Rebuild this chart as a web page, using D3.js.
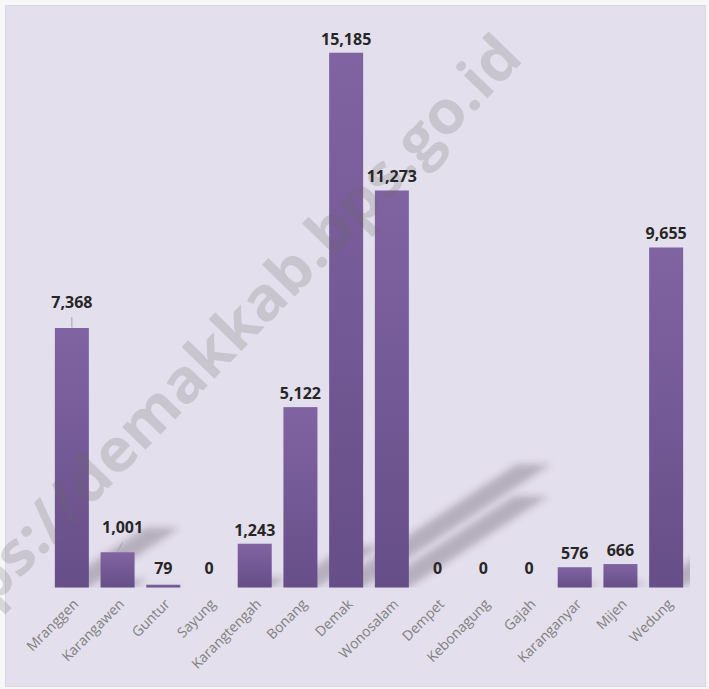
<!DOCTYPE html>
<html>
<head>
<meta charset="utf-8">
<script src="https://cdn.jsdelivr.net/npm/d3@7"></script>
<style>
  html, body { margin: 0; padding: 0; background: #f7f6f9; }
  svg { display: block; }
</style>
</head>
<body>
<div class="chart-area"></div>
<script>
// Kecamatan (districts) and values
const categories = ["Mranggen", "Karangawen", "Guntur", "Sayung", "Karangtengah", "Bonang", "Demak",
    "Wonosalam", "Dempet", "Kebonagung", "Gajah", "Karanganyar", "Mijen", "Wedung"];
const values = [7368, 1001, 79, 0, 1243, 5122, 15185, 11273, 0, 0, 0, 576, 666, 9655];
const yMax = 16000;
const watermarkText = "https://demakkab.bps.go.id";

// labels that were dragged off their bar (with a leader line)
const labelNudge = { Mranggen: { dx: 0, dy: -12 }, Karangawen: { dx: 5, dy: -11 } };

const W = 709, H = 689;
const plot = { left: 49, right: 689, top: 24, bottom: 587.5 };

const svg = d3.select(".chart-area")
    .append("svg")
    .attr("width", W)
    .attr("height", H);

const defs = svg.append("defs");

const grad = defs.append("linearGradient")
    .attr("id", "barGrad")
    .attr("x1", 0).attr("y1", 0).attr("x2", 0).attr("y2", 1);
grad.append("stop").attr("offset", "0%").attr("stop-color", "#8064a2");
grad.append("stop").attr("offset", "100%").attr("stop-color", "#664e88");

defs.append("filter")
    .attr("id", "blur")
    .attr("x", "-50%").attr("y", "-50%").attr("width", "200%").attr("height", "200%")
    .append("feGaussianBlur").attr("stdDeviation", 3.5);

defs.append("clipPath").attr("id", "plotClip")
    .append("rect")
    .attr("x", plot.left).attr("y", plot.top)
    .attr("width", plot.right - plot.left + 1)
    .attr("height", plot.bottom - plot.top);

// chart panel
svg.append("rect")
    .attr("x", 5.5).attr("y", 5.5)
    .attr("width", 700).attr("height", 681)
    .attr("fill", "#e4dfec")
    .attr("stroke", "#d9d9d9")
    .attr("stroke-width", 1);

const x = d3.scaleBand()
    .domain(categories)
    .range([plot.left, plot.right])
    .paddingInner(0.256)
    .paddingOuter(0.128);

const y = d3.scaleLinear()
    .domain([0, yMax])
    .range([plot.bottom, plot.top]);

const data = categories.map((c, i) => ({ name: c, value: values[i] }));

// perspective shadows cast up and to the right
const shadowK = 0.35, shadowS = 0.23;
svg.append("g")
    .attr("clip-path", "url(#plotClip)")
    .append("g")
    .attr("filter", "url(#blur)")
    .selectAll("polygon")
    .data(data.filter(d => d.value > 0))
    .enter()
    .append("polygon")
    .attr("points", d => {
        const x0 = x(d.name), x1 = x0 + x.bandwidth();
        const h = y(0) - y(d.value);
        const dx = h * shadowK, dy = h * shadowS;
        return [[x0, y(0)], [x1, y(0)], [x1 + dx, y(0) - dy], [x0 + dx, y(0) - dy]]
            .map(p => p.join(",")).join(" ");
    })
    .attr("fill", "#3a3045")
    .attr("fill-opacity", 0.28);

// bars
svg.append("g")
    .selectAll("rect")
    .data(data)
    .enter()
    .append("rect")
    .attr("x", d => x(d.name))
    .attr("y", d => y(d.value))
    .attr("width", x.bandwidth())
    .attr("height", d => y(0) - y(d.value))
    .attr("fill", "url(#barGrad)");

// watermark
svg.append("text")
    .attr("transform", "translate(225,368) rotate(-45.8)")
    .attr("text-anchor", "middle")
    .attr("font-family", "'Open Sans', sans-serif")
    .attr("font-weight", 700)
    .attr("font-size", 60)
    .attr("textLength", 860)
    .attr("lengthAdjust", "spacingAndGlyphs")
    .attr("fill", "#6a6a6a")
    .attr("fill-opacity", 0.22)
    .text(watermarkText);

// value labels
const fmt = d3.format(",");
const labelY = d => Math.min(y(d.value) - 8, y(0) - 13.5) + ((labelNudge[d.name] || {}).dy || 0);
const labelX = d => x(d.name) + x.bandwidth() / 2 + ((labelNudge[d.name] || {}).dx || 0);

svg.append("g")
    .selectAll("line")
    .data(data.filter(d => labelNudge[d.name]))
    .enter()
    .append("line")
    .attr("x1", d => labelX(d))
    .attr("y1", d => labelY(d) + 9)
    .attr("x2", d => x(d.name) + x.bandwidth() / 2)
    .attr("y2", d => y(d.value) - 0.5)
    .attr("stroke", "#a6a6a6")
    .attr("stroke-width", 1);

svg.append("g")
    .selectAll("text")
    .data(data)
    .enter()
    .append("text")
    .attr("x", labelX)
    .attr("y", labelY)
    .attr("text-anchor", "middle")
    .attr("font-family", "'Open Sans', sans-serif")
    .attr("font-weight", 700)
    .attr("font-size", 16)
    .attr("fill", "#262626")
    .text(d => fmt(d.value));

// category axis labels (rotated)
const xAxis = svg.append("g")
    .attr("transform", `translate(0,${plot.bottom})`)
    .call(d3.axisBottom(x).tickSize(0).tickPadding(0));
xAxis.select(".domain").remove();
xAxis.selectAll(".tick text")
    .attr("transform", "translate(4,14) rotate(-45)")
    .attr("text-anchor", "end")
    .attr("dy", "0.35em")
    .attr("y", 0)
    .attr("font-family", "'Open Sans', sans-serif")
    .attr("font-size", 14)
    .attr("fill", "#7f7f7f");
</script>
</body>
</html>
